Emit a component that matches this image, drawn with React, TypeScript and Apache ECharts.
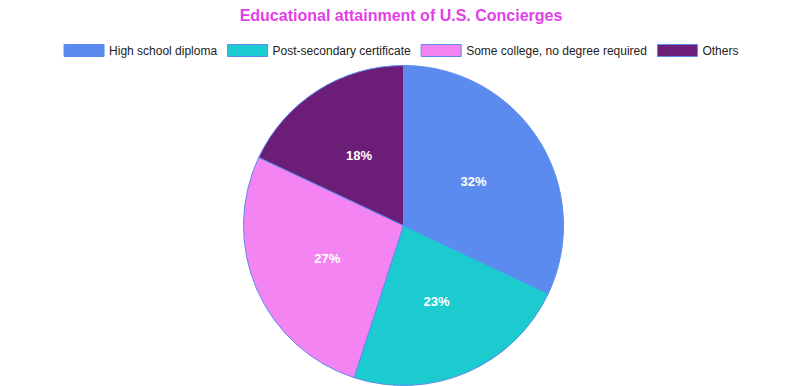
import React, { useEffect, useRef } from "react";
import * as echarts from "echarts";

const categories = [
  "High school diploma",
  "Post-secondary certificate",
  "Some college, no degree required",
  "Others",
];
const values = [32, 23, 27, 18];
const colors = ["#5B8BEF", "#1BCBCF", "#F384F2", "#6B1D78"];
const FONT = "'Liberation Sans', Arial, sans-serif";

export default function App() {
  const ref = useRef<HTMLDivElement>(null);
  useEffect(() => {
    document.body.style.margin = "0";
    const chart = echarts.init(ref.current!, undefined, { renderer: "svg" });
    chart.setOption({
      animation: false,
      title: {
        text: "Educational attainment of U.S. Concierges",
        left: "center",
        top: 2,
        textStyle: { color: "#E23FE8", fontSize: 16, fontWeight: "bold", fontFamily: FONT },
      },
      legend: {
        top: 39,
        left: "center",
        itemWidth: 40,
        itemHeight: 12,
        itemGap: 10,
        icon: "rect",
        data: categories,
        textStyle: { fontSize: 12, color: "#222", fontFamily: FONT },
        itemStyle: { borderColor: "#5B8BEF", borderWidth: 1 },
      },
      series: [
        {
          type: "pie",
          center: [403.5, 225.5],
          radius: 160,
          startAngle: 90,
          clockwise: true,
          data: categories.map((name, i) => ({
            name,
            value: values[i],
            itemStyle: { color: colors[i] },
          })),
          itemStyle: { borderColor: "#5B8BEF", borderWidth: 1 },
          label: {
            show: true,
            position: "inside",
            formatter: "{c}%",
            color: "#fff",
            fontSize: 13,
            fontWeight: "bold",
            fontFamily: FONT,
          },
          labelLine: { show: false },
          emphasis: { disabled: true },
        },
      ],
    });
    return () => chart.dispose();
  }, []);
  return <div ref={ref} style={{ width: 802, height: 386 }} />;
}
